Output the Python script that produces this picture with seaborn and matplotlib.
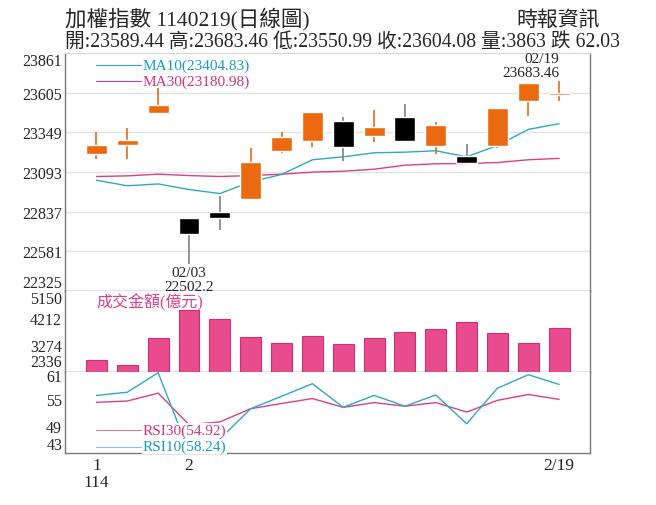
import matplotlib
matplotlib.use("Agg")
import matplotlib.pyplot as plt
import matplotlib.transforms as mtransforms
import seaborn as sns
import numpy as np
import pandas as pd

# ---- data ----
dates = ["01/17", "01/20", "01/21", "02/03", "02/04", "02/05", "02/06", "02/07",
         "02/10", "02/11", "02/12", "02/13", "02/14", "02/17", "02/18", "02/19"]
opens = [23206, 23269, 23475, 22797, 22835, 22917, 23230, 23292,
         23424, 23325, 23450, 23264, 23195, 23260, 23553, 23589.44]
highs = [23348, 23378, 23637, 22797, 22935, 23249, 23348, 23480,
         23450, 23491, 23529, 23413, 23275, 23506, 23669, 23683.46]
lows = [23180, 23176, 23475, 22502.2, 22717, 22917, 23217, 23254,
        23163, 23288, 23292, 23206, 23144, 23245, 23454, 23550.99]
closes = [23266, 23301, 23525, 22695, 22797, 23159, 23316, 23480,
          23254, 23385, 23292, 23398, 23154, 23506, 23666.11, 23604.08]
ma10 = [23040, 23004, 23016, 22980, 22954, 23029, 23077, 23172,
        23191, 23217, 23221, 23230, 23191, 23264, 23368, 23404.83]
ma30 = [23064, 23068, 23079, 23070, 23064, 23070, 23079, 23092,
        23098, 23111, 23137, 23146, 23148, 23154, 23172, 23180.98]
volume = [2764, 2591, 3529, 4501, 4166, 3552, 3355, 3575,
          3309, 3506, 3737, 3830, 4085, 3679, 3355, 3863]
rsi10 = [55.8, 56.5, 60.85, 43.3, 46.1, 52.85, 55.6, 58.4,
         53.15, 55.8, 53.4, 55.9, 49.5, 57.4, 60.4, 58.24]
rsi30 = [54.26, 54.55, 56.3, 49.3, 49.9, 52.85, 54.0, 55.1,
         53.15, 54.2, 53.4, 54.2, 52.1, 54.7, 56.0, 54.92]
price_ticks = [22325, 22581, 22837, 23093, 23349, 23605, 23861]
vol_ticks = [2336, 3274, 4212, 5150]
rsi_ticks = [43, 49, 55, 61]
x_tick_pos = [0, 3, 15]
x_tick_labels = ["1\n114", "2", "2/19"]

idx = np.arange(len(dates))
df = pd.DataFrame({"i": idx, "open": opens, "high": highs, "low": lows,
                   "close": closes, "ma10": ma10, "ma30": ma30,
                   "vol": volume, "rsi10": rsi10, "rsi30": rsi30})

sns.set_style("white")
FONT = ["Liberation Serif", "Noto Sans CJK TC", "DejaVu Sans"]
plt.rcParams["font.family"] = FONT

UP = "#EB6A0F"
DOWN = "#000000"
CYAN = "#2FA9C4"
MAG = "#D9418A"
VOLC = "#E84C8F"
SPINE = "#7a7a7a"

W, H = 656, 506
fig = plt.figure(figsize=(W / 100, H / 100), dpi=100)

def fbox(x0, y0, x1, y1):
    return [x0 / W, 1 - y1 / H, (x1 - x0) / W, (y1 - y0) / H]

ax1 = fig.add_axes(fbox(65, 54, 590, 292))
ax2 = fig.add_axes(fbox(65, 292, 590, 373))
ax3 = fig.add_axes(fbox(65, 373, 590, 454))

BW = 0.68
# ---- price panel ----
for t in price_ticks[1:-1]:
    ax1.axhline(t, color="#e3e3e3", lw=1, zorder=0)
sns.lineplot(data=df, x="i", y="ma30", ax=ax1, color=MAG, lw=1, zorder=2)
sns.lineplot(data=df, x="i", y="ma10", ax=ax1, color=CYAN, lw=1, zorder=2)
for i, o, h, l, c in zip(idx, opens, highs, lows, closes):
    up = c >= o
    col = UP if up else DOWN
    wcol = UP if up else "#808080"
    ax1.vlines(i, l, h, color=wcol, lw=1.2, zorder=3)
    lo, hi = min(o, c), max(o, c)
    ax1.bar(i, max(hi - lo, 4), bottom=lo, width=BW, color=col, zorder=4)

ax1.set_ylim(price_ticks[0], price_ticks[-1])
ax1.set_yticks(price_ticks)
ax1.set_yticklabels([str(t) for t in price_ticks])

# legends in price panel
ax1.plot([-0.02, 1.44], [23784, 23784], color=CYAN, lw=0.8, zorder=5)
ax1.text(1.48, 23784, "MA10(23404.83)", color="#1a9cc0", fontsize=11,
         va="center", ha="left", zorder=6)
ax1.plot([-0.02, 1.44], [23681, 23681], color=MAG, lw=0.8, zorder=5)
ax1.text(1.48, 23681, "MA30(23180.98)", color="#d6337f", fontsize=11,
         va="center", ha="left", zorder=6)

# annotations
ax1.text(3, 22485, "02/03\n22502.2", ha="center", va="top", fontsize=11,
         linespacing=1.1, zorder=6)
ax1.text(15.0, 23690, "02/19\n23683.46", ha="right", va="bottom", fontsize=11,
         linespacing=1.15, zorder=6)

# ---- volume panel ----
sns.barplot(data=df, x="i", y="vol", ax=ax2, native_scale=True, width=BW,
            color=VOLC, edgecolor="#cf2f72", linewidth=0.8, saturation=1,
            zorder=3)
ax2.set_ylim(vol_ticks[0], vol_ticks[-1])
ax2.set_yticks(vol_ticks)
ax2.set_yticklabels([str(t) for t in vol_ticks])
ax2.text(0.0, 4790, "成交金額(億元)", color="#d9428a", fontsize=11.5,
         ha="left", va="center", zorder=6)

# ---- RSI panel ----
sns.lineplot(data=df, x="i", y="rsi30", ax=ax3, color=MAG, lw=1, zorder=2)
sns.lineplot(data=df, x="i", y="rsi10", ax=ax3, color=CYAN, lw=1, zorder=2)
ax3.set_ylim(rsi_ticks[0], rsi_ticks[-1])
ax3.set_yticks(rsi_ticks)
ax3.set_yticklabels([str(t) for t in rsi_ticks])
ax3.plot([-0.02, 1.5], [48.1, 48.1], color="#e07aa8", lw=0.8, zorder=5)
ax3.text(1.5, 48.1, "RSI30(54.92)", color="#d6337f", fontsize=11,
         ha="left", va="center", zorder=6,
         bbox=dict(facecolor="white", edgecolor="none", pad=0.5))
ax3.plot([-0.02, 1.5], [44.4, 44.4], color="#7cc8dc", lw=0.8, zorder=5)
ax3.text(1.5, 44.4, "RSI10(58.24)", color="#1a9cc0", fontsize=11,
         ha="left", va="center", zorder=6,
         bbox=dict(facecolor="white", edgecolor="none", pad=0.5))

for ax in (ax1, ax2, ax3):
    ax.set_xlim(-1.02, 16.0)
    ax.set_xlabel("")
    ax.set_ylabel("")
    ax.set_facecolor("white")
    for s in ("left", "right", "bottom"):
        ax.spines[s].set_color(SPINE)
        ax.spines[s].set_linewidth(1)
    ax.spines["top"].set_visible(False)
    ax.tick_params(axis="y", length=0, pad=2, labelsize=11.5)
    ax.set_xticks(idx)
    ax.tick_params(axis="x", length=0, labelbottom=False)

ax1.spines["top"].set_visible(True)
ax1.spines["top"].set_color("#d8d8d8")

# tick label vertical alignment (clamp edge labels inside panel)
up2 = mtransforms.ScaledTranslation(0, 2 / 100, fig.dpi_scale_trans)
up3 = mtransforms.ScaledTranslation(0, 3 / 100, fig.dpi_scale_trans)
for ax in (ax1, ax2, ax3):
    labs = ax.get_yticklabels()
    labs[0].set_verticalalignment("bottom")
    labs[-1].set_verticalalignment("top")
ax2.get_yticklabels()[0].set_transform(ax2.get_yticklabels()[0].get_transform() + up2)
ax3.get_yticklabels()[-1].set_transform(ax3.get_yticklabels()[-1].get_transform() + up3)

# x ticks on RSI panel
ax3.set_xticks(idx)
ax3.tick_params(axis="x", length=3, direction="out", color=SPINE,
                labelbottom=False)
for p, lab in zip(x_tick_pos, x_tick_labels):
    ax3.text(p, rsi_ticks[0] - 1.0, lab, ha="center", va="top", fontsize=12.5,
             linespacing=1.05, transform=ax3.transData, clip_on=False)

# ---- titles ----
fig.text(65 / W, 1 - 19 / H, "加權指數 1140219(日線圖)", fontsize=15.5,
         ha="left", va="center")
fig.text(600 / W, 1 - 21 / H, "時報資訊", fontsize=15, ha="right", va="center")
fig.text(65 / W, 1 - 42 / H,
         "開:23589.44 高:23683.46 低:23550.99 收:23604.08 量:3863 跌 62.03",
         fontsize=14.2, ha="left", va="center")

fig.savefig("out.png", dpi=100, facecolor="white")
